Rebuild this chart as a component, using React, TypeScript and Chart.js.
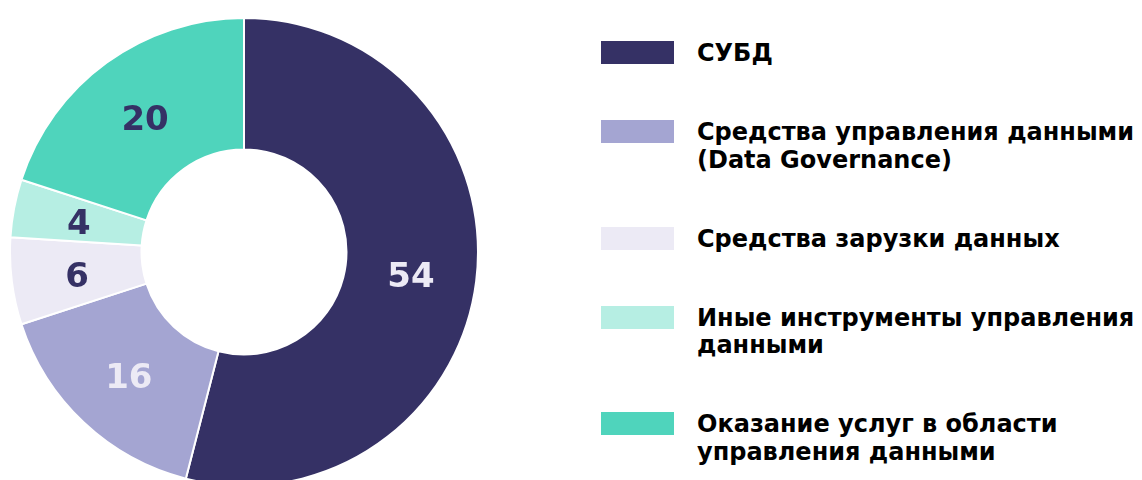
import React, { useEffect, useRef } from "react";
import { Chart, registerables } from "chart.js";

Chart.register(...registerables);

const categories = [
  "СУБД",
  "Средства управления данными (Data Governance)",
  "Средства зарузки данных",
  "Иные инструменты управления данными",
  "Оказание услуг в области управления данными",
];
const values = [54, 16, 6, 4, 20];
const sliceColors = ["#353165", "#A4A5D2", "#ECEAF5", "#B6EEE3", "#4FD4BC"];
const valueLabelColors = ["#ECEAF5", "#ECEAF5", "#353165", "#353165", "#353165"];

const FONT = "'DejaVu Sans', Verdana, sans-serif";

const valueLabelPlugin = {
  id: "valueLabels",
  afterDatasetsDraw(chart: any) {
    const ctx = chart.ctx;
    const meta = chart.getDatasetMeta(0);
    ctx.save();
    ctx.font = `bold 34px ${FONT}`;
    ctx.textAlign = "center";
    ctx.textBaseline = "middle";
    meta.data.forEach((arc: any, i: number) => {
      const p = arc.tooltipPosition();
      ctx.fillStyle = valueLabelColors[i];
      ctx.fillText(String(values[i]), p.x, p.y + 5);
    });
    ctx.restore();
  },
};

export default function App() {
  const ref = useRef<HTMLCanvasElement>(null);
  useEffect(() => {
    if (!ref.current) return;
    const chart = new Chart(ref.current, {
      type: "doughnut",
      data: {
        labels: categories,
        datasets: [
          {
            data: values,
            backgroundColor: sliceColors,
            borderColor: "#ffffff",
            borderWidth: 2,
            hoverOffset: 0,
          },
        ],
      },
      options: {
        responsive: false,
        animation: false,
        cutout: "43.8%",
        layout: { padding: 0 },
        plugins: {
          legend: { display: false },
          tooltip: { enabled: false },
        },
      },
      plugins: [valueLabelPlugin],
    });
    return () => chart.destroy();
  }, []);

  return (
    <div
      style={{
        position: "fixed",
        left: 0,
        top: 0,
        width: 1142,
        height: 480,
        overflow: "hidden",
        background: "#ffffff",
        fontFamily: FONT,
      }}
    >
      <canvas
        ref={ref}
        width={470}
        height={470}
        style={{ position: "absolute", left: 9, top: 17, width: 470, height: 470 }}
      />
      <div
        style={{
          position: "absolute",
          left: 601,
          top: 40,
          width: 541,
          display: "flex",
          flexDirection: "column",
          gap: 51.5,
        }}
      >
        {categories.map((c, i) => (
          <div key={c} style={{ display: "flex", alignItems: "flex-start" }}>
            <div
              style={{
                width: 73,
                height: 23,
                marginTop: 1,
                background: sliceColors[i],
                flex: "0 0 auto",
              }}
            />
            <div
              style={{
                marginLeft: 23,
                width: 445,
                fontWeight: "bold",
                fontSize: 24,
                lineHeight: "27.5px",
                color: "#000000",
                whiteSpace: "normal",
              }}
            >
              {c}
            </div>
          </div>
        ))}
      </div>
    </div>
  );
}
